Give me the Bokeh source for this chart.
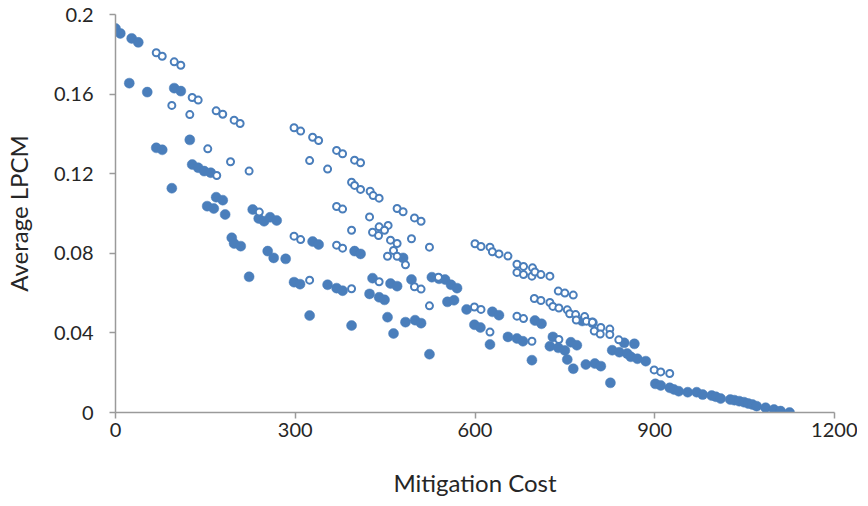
from bokeh.plotting import figure
from bokeh.models import Range1d, FixedTicker
from bokeh.embed import file_html
from bokeh.resources import INLINE

# ---- data ----
filled_x = [0, 8, 27, 38, 23, 53, 98, 109, 68, 78, 124, 128, 138, 148, 159, 94, 168, 179, 153, 164,
            183, 229, 239, 248, 258, 269, 194, 198, 209, 254, 264, 284, 223, 298, 308, 329, 339, 399, 409, 480,
            354, 369, 379, 324, 394, 429, 459, 470, 424, 440, 449, 454, 464, 484, 500, 510, 494, 524, 528, 540,
            550, 560, 570, 554, 565, 586, 599, 609, 629, 640, 625, 655, 670, 680, 695, 700, 711, 730, 725, 739,
            750, 760, 770, 754, 764, 785, 800, 810, 779, 796, 826, 829, 841, 849, 866, 854, 860, 871, 885, 901,
            910, 925, 932, 940, 955, 970, 980, 995, 1002, 1010, 1026, 1033, 1041, 1049, 1056, 1063, 1070, 1085, 1099, 1110,
            1125]
filled_y = [0.193, 0.1905, 0.188, 0.186, 0.1655, 0.161, 0.163, 0.1615, 0.133, 0.132, 0.137, 0.1246, 0.123, 0.1213, 0.1205, 0.1127, 0.1082, 0.1067, 0.1037, 0.1025,
            0.0995, 0.102, 0.0975, 0.0961, 0.0981, 0.0965, 0.0878, 0.0849, 0.0836, 0.0811, 0.0777, 0.0772, 0.0682, 0.0655, 0.0645, 0.0859, 0.0844, 0.0811, 0.0797, 0.0777,
            0.0642, 0.0625, 0.0612, 0.0487, 0.0437, 0.0675, 0.0648, 0.0635, 0.0596, 0.0579, 0.0566, 0.0479, 0.0397, 0.0454, 0.0464, 0.0449, 0.0668, 0.0293, 0.068, 0.0672,
            0.0668, 0.0642, 0.0625, 0.0556, 0.0564, 0.0518, 0.0441, 0.0427, 0.0506, 0.0489, 0.0342, 0.038, 0.0372, 0.0358, 0.0263, 0.0462, 0.0446, 0.038, 0.0333, 0.0325,
            0.0312, 0.0353, 0.0338, 0.0266, 0.022, 0.0241, 0.0246, 0.0233, 0.046, 0.0451, 0.0149, 0.0313, 0.0303, 0.035, 0.0345, 0.0296, 0.028, 0.027, 0.0258, 0.0144,
            0.0136, 0.0124, 0.0116, 0.0107, 0.0102, 0.0102, 0.009, 0.0085, 0.0079, 0.007, 0.0065, 0.0062, 0.0057, 0.0052, 0.0045, 0.004, 0.0032, 0.0024, 0.0015, 0.0007,
            0.0]

open_x = [68, 78, 98, 109, 128, 138, 94, 124, 168, 179, 198, 208, 298, 309, 154, 192, 223, 169, 240, 298,
          329, 339, 324, 354, 369, 379, 399, 409, 394, 399, 409, 425, 430, 440, 369, 379, 424, 470, 480, 499,
          510, 394, 440, 455, 429, 439, 449, 459, 470, 494, 524, 309, 369, 379, 454, 464, 470, 484, 324, 394,
          440, 499, 510, 524, 539, 600, 610, 625, 629, 640, 655, 670, 681, 696, 670, 681, 695, 700, 710, 725,
          739, 750, 764, 699, 710, 725, 730, 740, 754, 758, 768, 769, 783, 786, 796, 799, 810, 809, 825, 825,
          599, 610, 670, 681, 625, 695, 740, 840, 899, 910, 925]
open_y = [0.1808, 0.179, 0.1762, 0.1745, 0.1583, 0.157, 0.1543, 0.1497, 0.1516, 0.1499, 0.1469, 0.1452, 0.1431, 0.1414, 0.1325, 0.126, 0.1213, 0.1191, 0.1007, 0.0886,
          0.1383, 0.1367, 0.1266, 0.1223, 0.1317, 0.13, 0.1268, 0.1255, 0.1157, 0.1141, 0.1121, 0.1112, 0.109, 0.1077, 0.1035, 0.1022, 0.0983, 0.1025, 0.1009, 0.0978,
          0.0961, 0.0916, 0.0933, 0.094, 0.0906, 0.0889, 0.0916, 0.0866, 0.0849, 0.0873, 0.0831, 0.0869, 0.0841, 0.0826, 0.0785, 0.0814, 0.0785, 0.0742, 0.0665, 0.0622,
          0.0657, 0.0632, 0.062, 0.0536, 0.068, 0.0848, 0.0834, 0.0831, 0.0808, 0.0797, 0.0786, 0.0745, 0.0734, 0.0727, 0.0704, 0.0693, 0.0685, 0.0706, 0.0693, 0.0685,
          0.061, 0.06, 0.059, 0.0573, 0.0563, 0.0553, 0.0533, 0.0525, 0.0516, 0.0496, 0.0492, 0.0465, 0.0482, 0.0459, 0.0454, 0.0409, 0.0427, 0.0394, 0.0419, 0.0392,
          0.053, 0.0518, 0.0484, 0.0472, 0.0404, 0.0358, 0.0367, 0.0365, 0.0214, 0.0204, 0.0196]

x_ticks = [0, 300, 600, 900, 1200]
y_ticks = [0, 0.04, 0.08, 0.12, 0.16, 0.2]
y_tick_labels = ["0", "0.04", "0.08", "0.12", "0.16", "0.2"]

# ---- styling ----
BLUE = "#4a7ebb"
AXIS_GRAY = "#9a9a9a"
TEXT = "#262626"
FONT = "Lato"

p = figure(frame_width=719, frame_height=398, output_backend="svg", toolbar_location=None,
           x_range=Range1d(0, 1200), y_range=Range1d(0, 0.2),
           min_border_left=110, min_border_right=23, min_border_top=14, min_border_bottom=90)
p.outline_line_color = None
p.xgrid.visible = False
p.ygrid.visible = False
p.background_fill_color = "white"
p.border_fill_color = "white"

p.scatter(filled_x, filled_y, marker="circle", size=10, fill_color=BLUE, line_color=BLUE, line_width=0.5)
p.scatter(open_x, open_y, marker="circle", size=7, fill_color="white", line_color=BLUE, line_width=2)

for ax in (p.xaxis[0], p.yaxis[0]):
    ax.axis_line_color = AXIS_GRAY
    ax.axis_line_width = 1.5
    ax.major_tick_line_color = AXIS_GRAY
    ax.major_tick_line_width = 1.5
    ax.major_tick_out = 6
    ax.major_tick_in = 0
    ax.minor_tick_out = 0
    ax.minor_tick_in = 0
    ax.major_label_text_font = FONT
    ax.major_label_text_font_size = "20px"
    ax.major_label_text_color = TEXT
    ax.axis_label_text_font = FONT
    ax.axis_label_text_font_size = "24px"
    ax.axis_label_text_font_style = "normal"
    ax.axis_label_text_color = TEXT

p.xaxis.ticker = FixedTicker(ticks=x_ticks)
p.yaxis.ticker = FixedTicker(ticks=y_ticks)
p.yaxis.major_label_overrides = {t: l for t, l in zip(y_ticks, y_tick_labels)}
p.xaxis.axis_label = "Mitigation Cost"
p.yaxis.axis_label = "Average LPCM"
p.xaxis.major_label_standoff = 4
p.xaxis.axis_label_standoff = 28
p.yaxis.major_label_standoff = 16
p.yaxis.axis_label_standoff = 18

open("out.html", "w").write(file_html(p, INLINE))
